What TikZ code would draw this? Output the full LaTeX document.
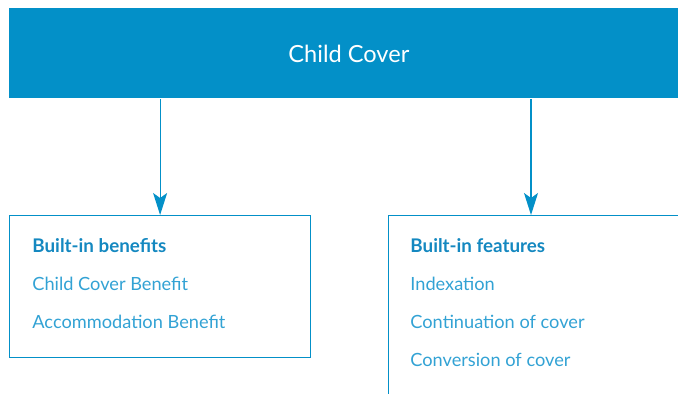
\documentclass[tikz,border=0pt]{standalone}
\usepackage{fontspec}
\setmainfont{Lato}
\usetikzlibrary{arrows.meta}
\definecolor{ccblue}{RGB}{3,144,200}
\definecolor{cctitle}{RGB}{20,136,192}
\definecolor{ccitem}{RGB}{50,162,212}

\begin{document}
\begin{tikzpicture}[x=0.5pt,y=-0.5pt,
  head/.style={fill=ccblue,text=white,minimum width=339.5pt,minimum height=45pt,inner sep=0pt,anchor=north west,font=\fontsize{11.8}{13}\selectfont},
  panel/.style={draw=ccblue,line width=0.6pt,minimum width=150.5pt,inner sep=0pt,anchor=north west},
  boxtitle/.style={anchor=base west,inner sep=0pt,text=cctitle,font=\fontsize{9.4}{11}\selectfont\bfseries},
  boxitem/.style={anchor=base west,inner sep=0pt,text=ccitem,font=\fontsize{9.1}{11}\selectfont},
  link/.style={draw=ccblue,line width=0.6pt,-{Stealth[length=11pt,width=7pt,inset=2.5pt]}}]
\useasboundingbox (0,0) rectangle (678,393);
\clip (0,0) rectangle (678,393);
\node [head] (cover) at (9,8) {Child Cover};
\node [panel,minimum height=71pt] (ben) at (9,215) {};
\node [panel,minimum height=92pt] (ftr) at (388,215) {};
\node [boxtitle] (ben-0) at (32,252) {Built-in benefits};
\foreach \txt [count=\i] in {Child Cover Benefit,Accommodation Benefit}
  \node [boxitem] (ben-\i) at (32,252+38*\i) {\txt};
\node [boxtitle] (ftr-0) at (410,252) {Built-in features};
\foreach \txt [count=\i] in {Indexation,Continuation of cover,Conversion of cover}
  \node [boxitem] (ftr-\i) at (410,252+38*\i) {\txt};
\coordinate (ftr-in) at (531,215);
\draw [link] (cover.south -| ben.north) -- (ben.north);
\draw [link] (cover.south -| ftr-in) -- (ftr-in);
\end{tikzpicture}
\end{document}
